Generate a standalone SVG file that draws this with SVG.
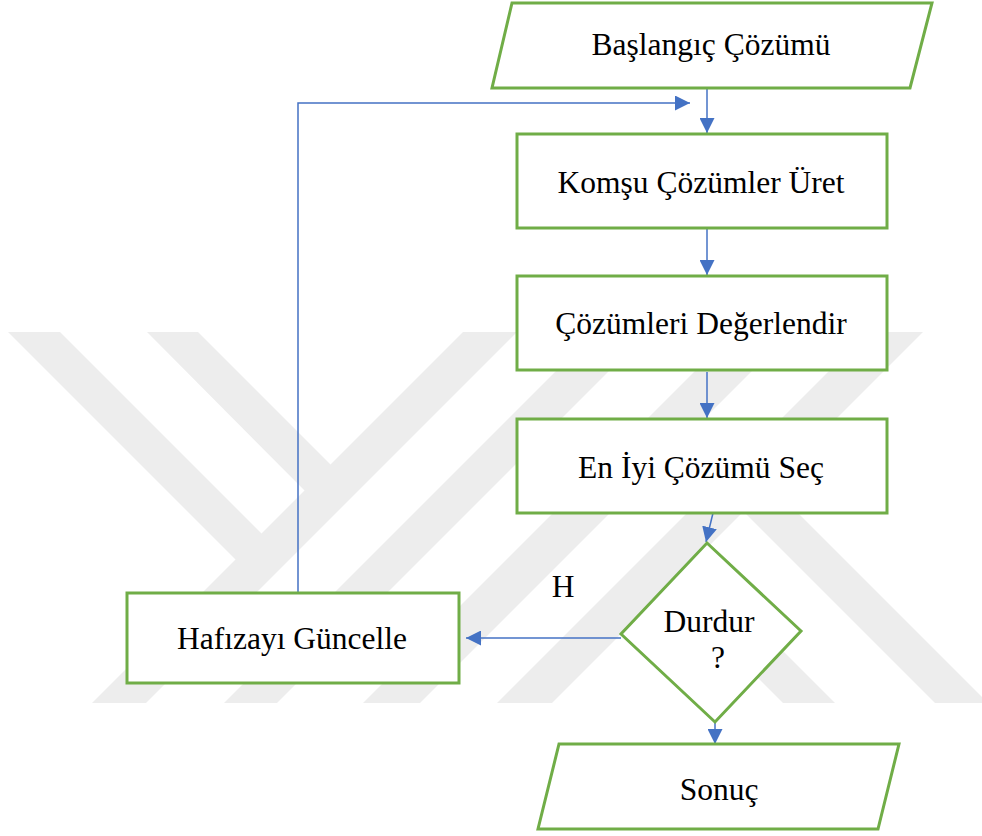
<svg xmlns="http://www.w3.org/2000/svg" width="982" height="836" viewBox="0 0 982 836">
<defs>
<style>
.shape{fill:#ffffff;stroke:#70AD47;stroke-width:3}
.lbl{font-family:"Liberation Serif","Times New Roman",serif;font-size:31.5px;fill:#000;text-anchor:middle}
.conn{fill:none;stroke:#4472C4;stroke-width:1.5}
.wm{fill:#ededed}
</style>
<marker id="ah" markerWidth="15" markerHeight="15" refX="15" refY="7.5" orient="auto" markerUnits="userSpaceOnUse">
<path d="M0,0 L15,7.5 L0,15 z" fill="#4472C4"/>
</marker>
</defs>
<rect width="982" height="836" fill="#ffffff"/>
<g id="watermark">
<polygon class="wm" points="8,332 60,332 274,546 248,572"/>
<polygon class="wm" points="147,332 198,332 343,477 317,503"/>
<polygon class="wm" points="463,332 517,332 146,703 92,703"/>
<polygon class="wm" points="595,332 648,332 277,703 224,703"/>
<polygon class="wm" points="734,332 791,332 420,703 363,703"/>
<polygon class="wm" points="868,332 923,332 552,703 497,703"/>
<polygon class="wm" points="730,498 757,472 988,703 935,703"/>
<polygon class="wm" points="654,574 680,548 835,703 783,703"/>
</g>
<g id="connectors">
<path class="conn" d="M707,88 V133" marker-end="url(#ah)"/>
<path class="conn" d="M707,228 V275" marker-end="url(#ah)"/>
<path class="conn" d="M707,372 V418" marker-end="url(#ah)"/>
<path class="conn" d="M713,513 L706,542" marker-end="url(#ah)"/>
<path class="conn" d="M715,698 V744" marker-end="url(#ah)"/>
<path class="conn" d="M621,638 H466" marker-end="url(#ah)"/>
<path class="conn" d="M298,593 V103 H690" marker-end="url(#ah)"/>
</g>
<g id="start">
<polygon class="shape" points="512,3 932,3 910,88 492,88"/>
<text class="lbl" x="711" y="55">Başlangıç Çözümü</text>
</g>
<g id="komsu">
<rect class="shape" x="517" y="134" width="370" height="94"/>
<text class="lbl" x="701" y="193">Komşu Çözümler Üret</text>
</g>
<g id="degerlendir">
<rect class="shape" x="517" y="276" width="370" height="94"/>
<text class="lbl" x="701" y="334">Çözümleri Değerlendir</text>
</g>
<g id="sec">
<rect class="shape" x="517" y="419" width="370" height="94"/>
<text class="lbl" x="701" y="478">En İyi Çözümü Seç</text>
</g>
<g id="durdur">
<polygon class="shape" points="707,543 801,631 715,722 621,634"/>
<text class="lbl" x="709" y="632">Durdur</text>
<text class="lbl" x="718" y="668">?</text>
</g>
<g id="hafiza">
<rect class="shape" x="127" y="593" width="332" height="90"/>
<text class="lbl" x="292" y="649">Hafızayı Güncelle</text>
</g>
<g id="sonuc">
<polygon class="shape" points="559,744 899,744 878,829 538,829"/>
<text class="lbl" x="719" y="800">Sonuç</text>
</g>
<text class="lbl" x="563" y="597">H</text>
</svg>
